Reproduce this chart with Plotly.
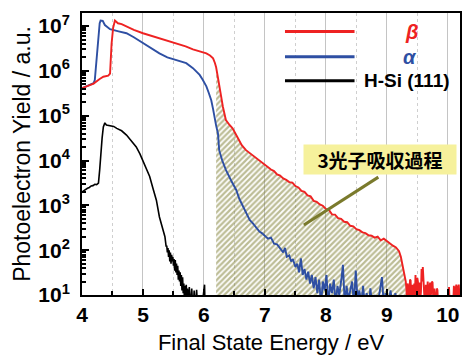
import plotly.graph_objects as go

# ---------------- data ----------------
beta_x = [4.00, 4.10, 4.19, 4.29, 4.35, 4.43, 4.46, 4.485, 4.51, 4.54, 4.59, 4.65, 4.73, 4.85,
          5.00, 5.15, 5.27, 5.40, 5.55, 5.70, 5.82, 5.95, 6.04, 6.10, 6.15, 6.18, 6.20, 6.23,
          6.25, 6.28, 6.31, 6.36, 6.42, 6.47, 6.55, 6.62, 6.69, 6.80, 6.91,
          6.95, 7.00, 7.05, 7.10, 7.15, 7.20, 7.25, 7.30, 7.35, 7.40, 7.45, 7.50, 7.55, 7.60,
          7.65, 7.70, 7.75, 7.80, 7.85, 7.90, 7.95, 8.00, 8.05, 8.10, 8.15, 8.20, 8.25, 8.30,
          8.35, 8.40, 8.45, 8.50, 8.55, 8.60, 8.65, 8.70, 8.75, 8.80, 8.85, 8.90, 8.95, 9.00,
          9.05, 9.10, 9.15, 9.20, 9.23, 9.26, 9.29, 9.31,
          9.32, 9.33, 9.34, 9.35, 9.36, 9.37, 9.38, 9.39, 9.40, 9.41, 9.42, 9.43, 9.44, 9.45,
          9.46, 9.47, 9.48, 9.49, 9.50, 9.51, 9.52, 9.53, 9.54, 9.55, 9.56, 9.57, 9.58, 9.59,
          9.60, 9.61, 9.62, 9.63, 9.64, 9.65, 9.66, 9.67, 9.68, 9.69, 9.70, 9.71, 9.72, 9.73,
          9.74, 9.75, 9.76, 9.77, 9.78, 9.79, 9.80, 9.81, 9.82, 9.83, 9.85, 9.95,
          10.00, 10.02, 10.04, 10.08, 10.09, 10.10, 10.11, 10.12, 10.13, 10.14, 10.15, 10.16,
          10.17, 10.18, 10.19, 10.20]
beta_y = [4.1e5, 4.6e5, 5.2e5, 6.6e5, 7.4e5, 7.8e5, 8.7e5, 4.0e6, 9.0e6, 1.32e7, 1.15e7, 1.10e7, 9.7e6, 8.2e6,
          6.9e6, 6.0e6, 5.2e6, 4.6e6, 4.0e6, 3.5e6, 3.0e6, 2.7e6, 2.45e6, 2.2e6, 1.9e6, 1.5e6, 1.2e6, 7.0e5,
          4.5e5, 2.8e5, 1.6e5, 8.0e4, 6.2e4, 5.2e4, 3.3e4, 2.2e4, 1.7e4, 1.3e4, 1.0e4,
          9.1e3, 7.9e3, 7.2e3, 6.3e3, 5.8e3, 4.9e3, 4.6e3, 4.0e3, 3.7e3, 3.3e3, 3.2e3, 2.7e3, 2.5e3, 2.1e3,
          2.0e3, 1.66e3, 1.58e3, 1.26e3, 1.2e3, 1.05e3, 9.8e2, 8.3e2, 7.9e2, 6.3e2, 6.2e2, 5.2e2, 5.0e2, 4.3e2,
          4.2e2, 3.5e2, 3.4e2, 2.95e2, 2.8e2, 2.5e2, 2.4e2, 2.15e2, 2.1e2, 1.9e2, 2.0e2, 1.66e2, 1.8e2, 1.58e2,
          1.38e2, 1.26e2, 1.15e2, 9.5e1, 7.1e1, 4.5e1, 2.8e1, 2.0e1,
          14, 8, 18, 16, 7, 8, 22, 21, 9, 12.6, 17, 8, 14, 18,
          9, 28, 14, 9, 24, 20, 8, 11, 19, 8, 12, 38, 20, 42,
          26, 16, 7, 8, 17, 14, 9, 20, 12, 8, 15, 19, 9, 12.6,
          20, 19, 9, 8, 14, 11, 6, 8, 14, 13, 3, 3,
          3, 15, 3, 3, 12, 16, 7, 8, 14, 17, 9, 9,
          15, 17, 10, 12.6]

alpha_x = [4.00, 4.10, 4.19, 4.21, 4.24, 4.27, 4.29, 4.305, 4.34, 4.375, 4.42, 4.46, 4.60, 4.73,
           4.85, 5.00, 5.14, 5.27, 5.40, 5.55, 5.71, 5.82, 5.88, 5.93, 5.98, 6.04, 6.08, 6.12,
           6.15, 6.17, 6.20, 6.23, 6.25, 6.30, 6.36, 6.45, 6.53, 6.58, 6.64, 6.70, 6.75, 6.80,
           6.85, 6.91, 6.95, 7.00, 7.05, 7.10, 7.15, 7.20, 7.25, 7.30, 7.33, 7.36, 7.40, 7.43,
           7.46, 7.50, 7.53, 7.56, 7.59, 7.62, 7.65, 7.68, 7.71, 7.74, 7.77, 7.80, 7.83, 7.86,
           7.89, 7.92, 7.95, 7.98, 8.01, 8.04, 8.07, 8.10, 8.13, 8.16, 8.19, 8.22, 8.25, 8.28,
           8.31, 8.34, 8.37, 8.40, 8.43, 8.46, 8.49, 8.52, 8.55, 8.58, 8.61, 8.64, 8.67, 8.70,
           8.73, 8.76, 8.80, 8.84, 8.88, 8.92, 8.95, 8.98, 9.02, 9.06, 9.10, 9.14, 9.18, 9.22, 9.25]
alpha_y = [4.1e5, 4.6e5, 5.3e5, 6.2e5, 1.7e6, 6.9e6, 1.15e7, 1.32e7, 1.3e7, 1.05e7, 9.2e6, 8.5e6, 7.6e6, 6.9e6,
           5.6e6, 4.1e6, 3.2e6, 2.45e6, 2.0e6, 1.74e6, 1.48e6, 1.15e6, 9.5e5, 8.1e5, 6.3e5, 4.5e5, 3.2e5, 2.2e5,
           1.4e5, 9.5e4, 6.0e4, 4.0e4, 1.7e4, 1.0e4, 6.2e3, 3.5e3, 2.2e3, 1.4e3, 9.3e2, 6.3e2, 4.7e2, 4.0e2,
           3.2e2, 2.6e2, 2.4e2, 2.1e2, 1.8e2, 1.9e2, 1.4e2, 1.35e2, 1.12e2, 89, 112, 71, 76, 56,
           63, 42, 50, 32, 66, 28, 38, 22, 33, 18, 28, 14, 25, 11,
           22, 6, 20, 12.6, 28, 6, 18, 11, 22, 6, 16, 10, 20, 47,
           6, 16, 8, 14, 20, 6, 35, 8, 12.6, 6, 16, 6, 11, 5,
           14, 6, 10, 5, 12.6, 25, 6, 11, 5, 12.6, 5, 11, 5, 10, 3]

hsi_x = [4.00, 4.03, 4.06, 4.09, 4.12, 4.15, 4.18, 4.21, 4.24, 4.27, 4.29, 4.31, 4.33, 4.35,
         4.375, 4.40, 4.46, 4.52, 4.57, 4.65, 4.73, 4.81, 4.89, 4.95, 5.00, 5.05, 5.11, 5.16,
         5.22, 5.27, 5.31, 5.36, 5.38, 5.39, 5.40, 5.41, 5.42, 5.43, 5.44, 5.45, 5.46, 5.47,
         5.48, 5.49, 5.50, 5.51, 5.52, 5.53, 5.54, 5.55, 5.56, 5.57, 5.58, 5.59, 5.60, 5.61,
         5.62, 5.63, 5.64, 5.65, 5.66, 5.67, 5.68, 5.69, 5.70, 5.71, 5.72, 5.73, 5.75, 5.76,
         5.78, 5.80, 5.82, 5.84, 5.86, 5.88, 5.90, 5.95, 5.99, 6.01, 6.02]
hsi_y = [2.0e3, 2.15e3, 2.25e3, 2.4e3, 2.5e3, 2.7e3, 2.75e3, 2.95e3, 2.9e3, 3.15e3, 6.2e3, 1.6e4, 3.2e4, 5.6e4,
         6.9e4, 6.2e4, 5.9e4, 5.75e4, 5.2e4, 4.6e4, 3.7e4, 2.8e4, 2.0e4, 1.4e4, 1.0e4, 6.8e3, 4.4e3, 2.5e3,
         1.3e3, 5.5e2, 3.5e2, 2.0e2, 1.2e2, 126, 89, 112, 71, 100, 56, 89, 50, 79,
         56, 71, 45, 63, 35, 60, 32, 50, 28, 45, 22, 35, 20, 32,
         16, 28, 12.6, 25, 11, 18, 8, 16, 6, 17, 8, 14, 5, 15,
         5, 14, 4, 12.6, 4, 13, 4, 4, 10, 17, 4]

hatch_range = [6.2, 9.31]

x_ticks = [4, 5, 6, 7, 8, 9, 10]
y_tickvals = [1e1, 1e2, 1e3, 1e4, 1e5, 1e6, 1e7]
y_ticktext = ["10<sup>1</sup>", "10<sup>2</sup>", "10<sup>3</sup>", "10<sup>4</sup>",
              "10<sup>5</sup>", "10<sup>6</sup>", "10<sup>7</sup>"]
y_minor = [m * 10 ** d for d in range(1, 7) for m in range(2, 10)] + [2e7]

legend_names = ["β", "α", "H-Si (111)"]
annot_text = "3光子吸収過程"

RED = "#ee2222"
BLUE = "#2e4fa3"
BLACK = "#000000"
OLIVE = "#7a7a2c"

# ---------------- figure ----------------
fig = go.Figure()

# hatched region under the beta curve
hx = [x for x in beta_x if hatch_range[0] <= x <= hatch_range[1]]
hy = [y for x, y in zip(beta_x, beta_y) if hatch_range[0] <= x <= hatch_range[1]]
poly_x = [hx[0]] + hx + [hx[-1]]
poly_y = [1] + hy + [1]
fig.add_trace(go.Scatter(x=poly_x, y=poly_y, mode="lines", fill="toself",
                         line=dict(width=0, color="rgba(0,0,0,0)"),
                         fillcolor="rgba(255,255,255,0)",
                         fillpattern=dict(shape="/", fgcolor=OLIVE, bgcolor="rgba(255,255,255,0)",
                                          size=4, solidity=0.55),
                         hoverinfo="skip", showlegend=False))

fig.add_trace(go.Scatter(x=hsi_x, y=hsi_y, mode="lines", line=dict(color=BLACK, width=1.6),
                         showlegend=False))
fig.add_trace(go.Scatter(x=alpha_x, y=alpha_y, mode="lines", line=dict(color=BLUE, width=1.9),
                         showlegend=False))
fig.add_trace(go.Scatter(x=beta_x, y=beta_y, mode="lines", line=dict(color=RED, width=1.9),
                         showlegend=False))

FONT = "Liberation Sans, Arial, Noto Sans CJK JP"

fig.update_layout(
    width=462, height=358,
    margin=dict(l=82, r=0, t=13, b=63),
    paper_bgcolor="white", plot_bgcolor="white",
    showlegend=False,
    font=dict(family=FONT, color="black"),
    xaxis=dict(
        range=[4, 10.2], tickvals=x_ticks, ticks="inside", ticklen=6, tickwidth=1.5,
        tickcolor="black", showline=True, linecolor="black", linewidth=1.8, mirror=True,
        showgrid=True, gridcolor="#c4c4c4", gridwidth=1, zeroline=False,
        tickfont=dict(family=FONT, size=21, weight="bold"),
        minor=dict(dtick=0.5, ticks="inside", ticklen=4, tickcolor="black", showgrid=True,
                   gridcolor="#cfcfcf", griddash="dot", gridwidth=1),
        title=dict(text="Final State Energy / eV", font=dict(family=FONT, size=22), standoff=10),
    ),
    yaxis=dict(
        type="log", range=[1, 7.29], tickvals=y_tickvals, ticktext=y_ticktext,
        ticks="inside", ticklen=7, tickwidth=1.5, tickcolor="black",
        showline=True, linecolor="black", linewidth=1.8, mirror=True,
        showgrid=False, zeroline=False, ticklabelstandoff=6,
        tickfont=dict(family=FONT, size=21, weight="bold"),
        minor=dict(tickvals=y_minor, ticks="inside", ticklen=4, tickcolor="black", showgrid=False),
        title=dict(text="Photoelectron Yield / a.u.", font=dict(family=FONT, size=23), standoff=1),
    ),
)

# legend drawn as lines + labels
leg_y = [0.934, 0.845, 0.760]
leg_col = [RED, BLUE, BLACK]
for yy, cc in zip(leg_y, leg_col):
    fig.add_shape(type="line", xref="paper", yref="paper", x0=0.537, x1=0.721, y0=yy, y1=yy,
                  line=dict(color=cc, width=3))
fig.add_annotation(xref="paper", yref="paper", x=0.871, y=leg_y[0], xanchor="center",
                   yanchor="middle", text="<i>β</i>",
                   showarrow=False, font=dict(family=FONT, size=20, color=RED, weight="bold"))
fig.add_annotation(xref="paper", yref="paper", x=0.868, y=leg_y[1], xanchor="center",
                   yanchor="middle", text="<i>α</i>",
                   showarrow=False, font=dict(family=FONT, size=20, color=BLUE, weight="bold"))
fig.add_annotation(xref="paper", yref="paper", x=0.742, y=leg_y[2], xanchor="left",
                   yanchor="middle", text=legend_names[2], showarrow=False,
                   font=dict(family=FONT, size=19, color=BLACK, weight="bold"))

# callout
fig.add_shape(type="line", xref="paper", yref="paper", x0=0.784, y0=0.418, x1=0.587, y1=0.248,
              line=dict(color=OLIVE, width=3))
fig.add_annotation(xref="paper", yref="paper", x=0.7895, y=0.479, xanchor="center",
                   yanchor="middle", text=annot_text,
                   showarrow=False, bgcolor="#f6f19c", width=150, height=27,
                   font=dict(family="Noto Sans CJK JP", size=19, color="black", weight="bold"))

fig.write_html("out.html")
